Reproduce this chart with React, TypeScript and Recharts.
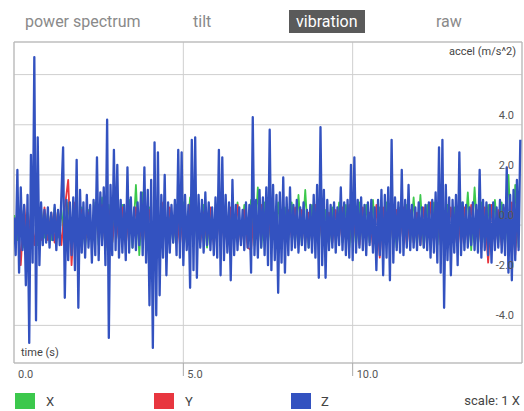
import { LineChart, Line, XAxis, YAxis, CartesianGrid, ReferenceArea } from "recharts";

// tabs across the top
const TABS = ["power spectrum", "tilt", "vibration", "raw"];
const ACTIVE_TAB = "vibration";
const TAB_LEFT = [25, 193, 289, 436];

// sampling steps (seconds)
const STEP_Z = 0.05;
const STEP_XY = 0.1;

// Z axis accel, m/s^2, one row per second
const Z_VALUES = [
  0.3, -1.2, 2.2, -1.9, 1.5, -1.0, 0.8, -2.4, 1.2, -4.7, 2.8, -1.5, 6.7, -3.8, 3.5, -1.6, 0.9, -0.8, 0.6, -0.7,
  0.7, -0.9, 0.5, -0.6, 0.8, -1.0, 0.6, -0.8, 1.2, 3.1, -2.9, 1.0, -1.4, 0.9, -1.2, 1.1, -1.8, 2.6, -3.3, 1.4,
  -1.1, 0.9, -1.3, 1.2, -0.9, 0.8, -1.5, 1.0, -1.2, 2.7, -1.4, 1.3, -0.8, 1.5, -1.6, 4.2, -4.5, 1.6, -1.2, 3.0,
  -1.0, 2.4, -1.3, 1.0, -1.1, 0.8, -1.4, 2.3, -1.1, 1.1, -0.9, 0.7, -1.0, 0.9, -0.8, 1.3, -1.2, 2.3, -1.5, 1.4,
  -3.2, 1.8, -4.9, 3.3, -3.6, 2.9, -2.8, 1.2, -1.3, 2.0, -2.0, 0.9, -1.1, 0.8, -0.7, 1.0, -1.2, 3.0, -1.3, 2.9,
  -1.6, 1.2, -1.0, 0.8, -2.5, 3.4, -1.8, 3.5, -2.1, 1.2, -0.9, 1.0, -1.1, 1.3, -0.8, 0.9, -1.0, 0.7, -1.2, 1.1,
  -1.3, 3.0, -2.0, 2.7, -1.4, 1.2, -1.1, 0.9, -2.2, 1.8, -1.2, 0.8, -1.0, 0.7, -0.8, 0.6, -1.0, 0.9, -0.9, 0.8,
  -1.9, 4.3, -1.2, 1.0, -1.3, 1.4, -0.9, 1.1, -1.2, 1.5, -1.6, 3.8, -1.8, 1.6, -1.4, 1.2, -2.7, 1.3, -1.5, 1.9,
  -1.9, 1.1, -1.2, 1.5, -1.0, 0.8, -0.9, 1.0, -1.1, 0.7, -0.8, 0.9, -1.0, 0.6, -0.9, 0.8, -1.1, 1.2, -1.3, 1.6,
  -2.1, 3.9, -1.6, 1.4, -2.1, 1.0, -1.0, 0.8, -0.9, 0.9, -1.1, 0.7, -0.8, 1.5, -1.0, 0.9, -1.2, 1.0, -1.3, 2.4,
  -1.4, 2.7, -1.1, 1.0, -0.9, 1.1, -1.0, 0.8, -1.2, 0.9, -0.8, 1.0, -1.1, 0.7, -1.8, 1.0, -1.2, 1.4, -2.0, 1.2,
  -1.3, 1.5, -2.2, 3.4, -1.5, 1.1, -1.0, 0.9, -1.1, 2.2, -1.2, 1.0, -0.9, 1.6, -1.0, 0.8, -0.9, 0.7, -1.0, 0.9,
  -0.8, 0.7, -0.9, 0.8, -1.0, 0.9, -1.3, 1.0, -1.1, 1.3, -1.5, 3.1, -1.9, 3.4, -3.3, 1.6, -1.4, 1.1, -2.0, 1.0,
  -1.1, 1.2, -1.6, 2.9, -1.2, 0.9, -1.0, 0.8, -0.9, 0.7, -0.8, 0.9, -1.0, 0.8, -1.1, 2.2, -1.3, 1.0, -1.0, 0.9,
  -1.2, 0.8, -1.5, 0.9, -1.0, 0.7, -0.9, 1.0, -1.1, 0.8, -1.2, 2.3, -1.9, 1.2, -2.2, 1.4, -1.4, 1.8, -1.0, 3.4,
];

// X axis accel
const X_VALUES = [
  0.4, -0.6, 0.8, -0.9, 0.5, -0.7, 1.0, -0.8, 0.6, -0.5,
  0.5, -0.6, 0.7, -0.5, 0.6, -0.8, 0.9, -0.7, 0.8, -0.6,
  0.7, -0.9, 0.6, -0.7, 0.9, -0.8, 1.1, -1.0, 0.8, -0.7,
  0.9, -0.6, 0.8, -0.7, 1.0, -0.9, 1.6, -1.2, 1.3, -0.8,
  0.7, -0.8, 0.9, -0.6, 0.8, -0.9, 0.6, -0.7, 0.8, -0.6,
  0.9, -0.7, 1.1, -0.8, 0.7, -0.6, 0.8, -0.9, 0.6, -0.7,
  0.8, -0.6, 0.7, -0.8, 0.6, -0.7, 0.9, -0.6, 0.8, -0.7,
  1.0, -0.8, 1.5, -0.9, 0.9, -0.7, 0.8, -0.6, 0.9, -0.8,
  0.7, -0.6, 0.9, -0.7, 1.2, -0.8, 1.4, -0.9, 0.8, -0.7,
  0.8, -0.7, 0.6, -0.8, 0.7, -0.6, 0.9, -0.7, 0.8, -0.9,
  0.7, -0.8, 0.9, -0.6, 0.8, -0.7, 1.0, -0.9, 0.7, -0.8,
  0.9, -0.7, 0.8, -0.9, 0.7, -0.6, 0.8, -0.7, 1.1, -0.8,
  1.2, -0.9, 0.8, -0.7, 0.9, -0.8, 0.7, -0.9, 0.8, -0.6,
  0.7, -0.8, 0.9, -0.7, 1.3, -1.0, 1.5, -0.8, 0.9, -0.7,
  0.8, -0.9, 1.0, -0.7, 0.9, -0.8, 2.0, -1.1, 1.6, -0.9,
];

// Y axis accel
const Y_VALUES = [
  -0.5, 0.6, -1.6, 0.8, -0.7, 0.5, -0.8, 0.6, -0.6, 0.7,
  -0.6, 0.5, -0.7, 0.6, -0.8, 0.7, 1.8, -1.6, 0.9, -0.8,
  0.6, -0.7, 0.5, -0.6, 0.7, -0.5, 0.8, -0.9, 0.6, -0.7,
  0.5, -0.6, 0.7, -0.8, 0.6, -0.5, 0.7, -0.6, 0.8, -0.7,
  0.6, -0.8, 0.5, -0.7, 0.9, -0.6, 0.7, -0.5, 0.6, -0.8,
  0.7, -0.6, 0.8, -0.5, 0.6, -0.7, 0.5, -0.6, 0.7, -0.8,
  0.6, -0.7, 0.5, -0.8, 0.7, -0.6, 0.8, -0.7, 0.6, -0.9,
  -1.0, 0.7, -0.6, 0.8, -0.5, 0.6, -0.7, 0.5, -0.8, 0.6,
  -0.7, 0.6, -0.5, 0.7, -0.8, 0.6, -0.7, 0.5, -0.6, 0.8,
  -0.6, 0.7, -0.8, 0.5, -0.7, 0.6, -0.5, 0.7, -0.6, 0.8,
  -0.7, 0.6, -0.8, 0.7, -0.6, 0.5, -0.9, 0.8, -1.3, 0.7,
  -0.6, 0.8, -0.7, 0.6, -0.5, 0.7, -0.8, 0.6, -0.7, 0.5,
  -0.8, 0.7, -0.6, 0.9, -0.7, 0.6, -0.8, 0.5, -0.6, 0.7,
  -0.7, 0.6, -0.8, 0.7, -0.6, 0.8, -0.7, 0.6, -0.9, 0.7,
  -1.5, 0.8, -0.7, 0.6, -0.8, 0.7, -0.6, 0.9, -1.2, 0.8,
];

const X_TICKS = [0, 5, 10, 15];
const Y_TICKS = [-4, -2, 0, 2, 4, 6];
const X_DOMAIN = [0, 15];
const Y_DOMAIN = [-5.5, 7.3];

const SERIES = [
  { name: "X", color: "#3cc84c", width: 1.8, values: X_VALUES, step: STEP_XY },
  { name: "Y", color: "#e8363f", width: 1.8, values: Y_VALUES, step: STEP_XY },
  { name: "Z", color: "#3352c0", width: 2.3, values: Z_VALUES, step: STEP_Z },
];
const LEGEND_LEFT = [15, 154, 291];

const toPoints = (values: number[], step: number) =>
  values.map((v, i) => ({ t: +(i * step).toFixed(2), v }));

const GRID = "#cfcfcf";
const FONT = "Roboto, 'Noto Sans', sans-serif";

const XTick = (props: any) => {
  const { x, y, payload } = props;
  const val = payload.value;
  if (val >= 15) return null;
  return (
    <g>
      {val > 0 && <line x1={x} y1={y} x2={x} y2={y + 13} stroke="#aaa" />}
      <text x={x + 4} y={y + 15} fontSize={11} fill="#555" fontFamily={FONT}>
        {val.toFixed(1)}
      </text>
    </g>
  );
};

const YTick = (props: any) => {
  const { x, y, payload } = props;
  if (payload.value >= 6) return null;
  return (
    <text x={x - 8} y={y - 6} fontSize={11} fill="#555" textAnchor="end" fontFamily={FONT}>
      {payload.value.toFixed(1)}
    </text>
  );
};

export default function App() {
  return (
    <div style={{ position: "absolute", left: 0, top: 0, width: 524, height: 411, background: "#fff", fontFamily: FONT, overflow: "hidden" }}>
      {TABS.map((tab, i) => {
        const active = tab === ACTIVE_TAB;
        return (
          <div
            key={tab}
            style={{
              position: "absolute",
              left: TAB_LEFT[i],
              top: 10,
              height: 23,
              lineHeight: "23px",
              padding: active ? "0 7px" : 0,
              fontSize: 16,
              color: active ? "#fff" : "#8a8a8a",
              background: active ? "#5a5a5a" : "transparent",
            }}
          >
            {tab}
          </div>
        );
      })}

      <div style={{ position: "absolute", left: 0, top: 0 }}>
        <LineChart width={524} height={380} margin={{ top: 42, right: 2, left: 14, bottom: 0 }}>
          <CartesianGrid stroke={GRID} strokeWidth={1} />
          <XAxis
            dataKey="t"
            type="number"
            domain={X_DOMAIN}
            ticks={X_TICKS}
            allowDataOverflow
            axisLine={false}
            tickLine={false}
            tickSize={0}
            tickMargin={0}
            height={17}
            tick={(p: any) => <XTick {...p} />}
            interval={0}
          />
          <YAxis
            type="number"
            domain={Y_DOMAIN}
            ticks={Y_TICKS}
            allowDataOverflow
            orientation="right"
            mirror
            width={40}
            axisLine={false}
            tickLine={false}
            tickSize={0}
            tickMargin={0}
            tick={(p: any) => <YTick {...p} />}
            interval={0}
          />
          <ReferenceArea x1={0} x2={15} y1={Y_DOMAIN[0]} y2={Y_DOMAIN[1]} fill="none" stroke="#b5b5b5" ifOverflow="extendDomain" />
          {SERIES.map((s) => (
            <Line
              key={s.name}
              data={toPoints(s.values, s.step)}
              dataKey="v"
              name={s.name}
              type="linear"
              stroke={s.color}
              strokeWidth={s.width}
              strokeLinejoin="round"
              dot={false}
              isAnimationActive={false}
            />
          ))}
        </LineChart>
      </div>

      <div style={{ position: "absolute", left: 21, top: 346, fontSize: 11, color: "#444" }}>time (s)</div>
      <div style={{ position: "absolute", right: 8, top: 45, fontSize: 11, color: "#444" }}>accel (m/s^2)</div>

      {SERIES.map((s, i) => (
        <div key={s.name} style={{ position: "absolute", left: LEGEND_LEFT[i], top: 393, display: "flex", alignItems: "center" }}>
          <div style={{ width: 20, height: 16, background: s.color }} />
          <span style={{ marginLeft: i === 2 ? 10 : 11, fontSize: 13, color: "#444" }}>{s.name}</span>
        </div>
      ))}
      <div style={{ position: "absolute", right: 4, top: 393, fontSize: 13, color: "#444", lineHeight: "16px" }}>scale: 1 X</div>
    </div>
  );
}
